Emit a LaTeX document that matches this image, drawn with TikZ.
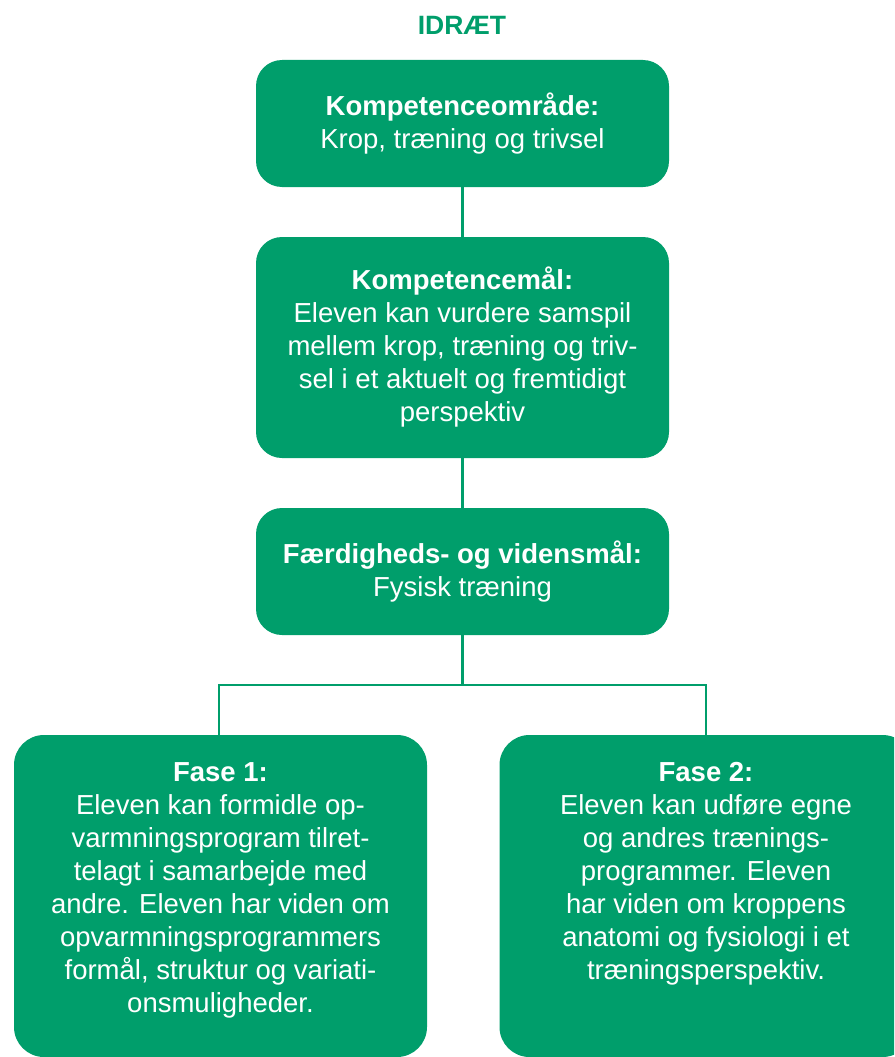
\documentclass[tikz,border=0pt]{standalone}
\usepackage{fontspec}
\setmainfont{Liberation Sans}
\definecolor{grn}{HTML}{009E6B}
\tikzset{
  box/.style={fill=grn, rounded corners=26pt, text=white, align=center,
    font=\fontsize{27.5}{33}\selectfont, inner sep=0pt},
  conn/.style={draw=grn, line width=2.5pt},
}
\begin{document}
\begin{tikzpicture}[x=1pt,y=-1pt]
\useasboundingbox (0,0) rectangle (894,1057);
\clip (0,0) rectangle (894,1057);
\node[text=grn, font=\fontsize{26.5}{30}\selectfont\bfseries] (title) at (462,25) {IDRÆT};
\node[box, minimum width=413pt, minimum height=127pt] (b1) at (462.5,123.5)
  {\textbf{Kompetenceområde:}\\Krop, træning og trivsel};
\node[box, minimum width=413pt, minimum height=221pt] (b2) at (462.5,347.5)
  {\textbf{Kompetencemål:}\\Eleven kan vurdere samspil\\mellem krop, træning og triv-\\sel i et aktuelt og fremtidigt\\perspektiv};
\node[box, minimum width=413pt, minimum height=127pt] (b3) at (462.5,571.5)
  {\textbf{Færdigheds- og vidensmål:}\\Fysisk træning};
\node[box, rounded corners=30pt, minimum width=413pt, minimum height=322pt] (b4) at (220.5,896) {};
\node[box, rounded corners=30pt, minimum width=413pt, minimum height=322pt] (b5) at (706,896) {};
\node[box, fill=none, anchor=north] (t4) at (220.5,762)
  {\textbf{Fase 1:}\\Eleven kan formidle op-\\varmningsprogram tilret-\\telagt i samarbejde med\\andre. Eleven har viden om\\opvarmningsprogrammers\\formål, struktur og variati-\\onsmuligheder.};
\node[box, fill=none, anchor=north] (t5) at (706,762)
  {\textbf{Fase 2:}\\Eleven kan udføre egne\\og andres trænings-\\programmer. Eleven\\har viden om kroppens\\anatomi og fysiologi i et\\træningsperspektiv.};
\coordinate (j) at (462.5,685);
\draw[conn] (b1.south) -- (b2.north);
\draw[conn] (b2.south) -- (b3.north);
\draw[conn] (b3.south) -- (j);
\draw[conn] (b4.north -| 219,0) |- (j) -| (b5.north);
\end{tikzpicture}
\end{document}
